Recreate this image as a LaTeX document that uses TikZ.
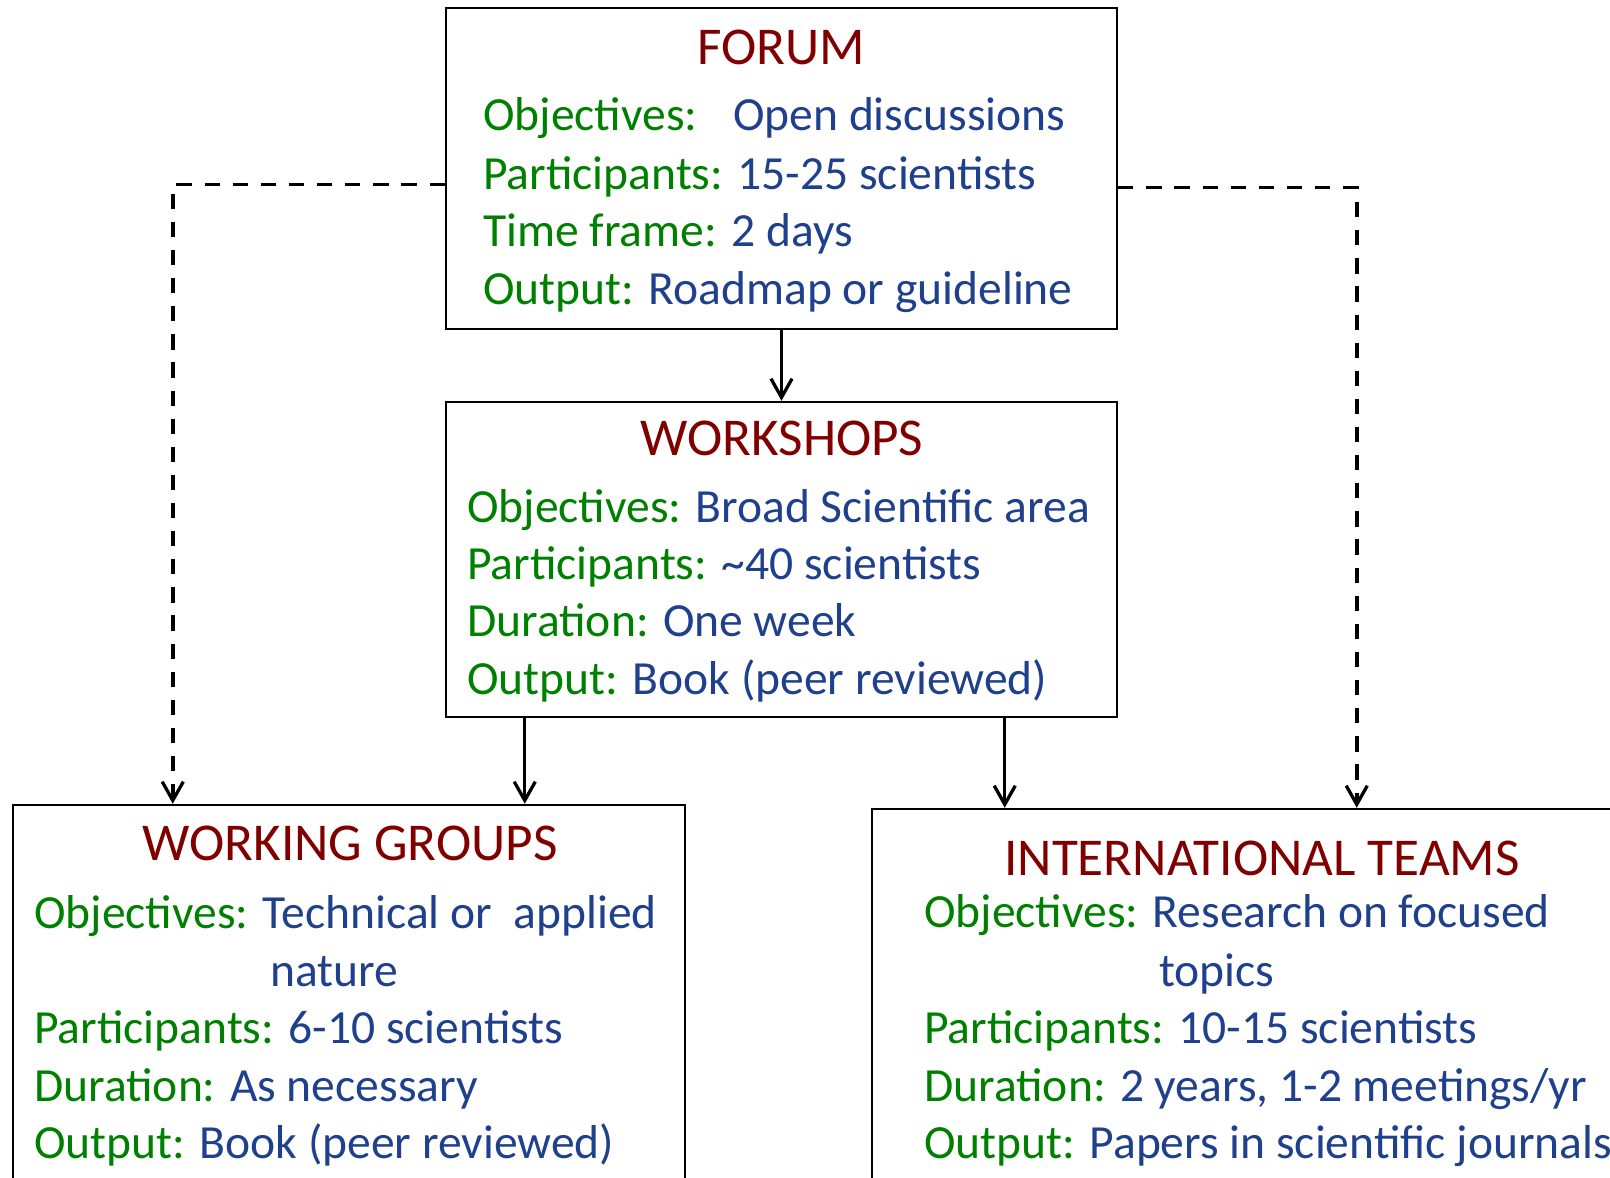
\documentclass[tikz,border=0pt]{standalone}
\usepackage{fontspec}
\setmainfont{Carlito}
\usepackage{xcolor}
\usetikzlibrary{arrows.meta,positioning,calc}

\definecolor{titlered}{RGB}{128,0,0}
\definecolor{fieldgreen}{RGB}{0,128,0}
\definecolor{valueblue}{RGB}{31,64,140}
\newcommand{\fld}[2]{\textcolor{fieldgreen}{#1} \textcolor{valueblue}{#2}}

\begin{document}
\begin{tikzpicture}[
    x=0.03cm, y=-0.03cm,
    panel/.style={draw=black, line width=2.1pt, inner sep=0pt},
    heading/.style={anchor=base, text=titlered, inner sep=0pt,
        font=\fontsize{45.4}{54}\selectfont},
    line/.style={anchor=base west, inner sep=0pt,
        font=\fontsize{40.6}{48.9}\selectfont},
    wrap/.style={line, anchor=base, text=valueblue},
    arrow/.style={-{Straight Barb[length=16pt,width=18pt,line width=2.8pt]}, line width=2.8pt},
    dasharrow/.style={arrow, line width=3pt, dash pattern=on 13pt off 11pt}
]
\useasboundingbox (0,0) rectangle (1610,1178);

% Boxes
\node[panel, minimum width=20.13cm, minimum height=9.63cm] (forum) at (781.5,168.5) {};
\node[panel, minimum width=20.13cm, minimum height=9.45cm] (workshops) at (781.5,559.5) {};
\node[panel, minimum width=20.16cm, minimum height=11.85cm] (wg) at (349,1002.5) {};
\node[panel, minimum width=23.34cm, minimum height=11.73cm] (it) at (1261,1004.5) {};

% ===== Forum =====
\node[heading] (forumT) at (781,65) {FORUM};
\node[line] (forumA) at (483,131) {\fld{Objectives:\hspace{0.45em}}{Open discussions}};
\node[line] (forumB) at (483,189) {\fld{Participants:}{15-25 scientists}};
\node[line] (forumC) at (483,246) {\fld{Time frame:}{2 days}};
\node[line] (forumD) at (483,304) {\fld{Output:}{Roadmap or guideline}};

% ===== Workshops =====
\node[heading] (wsT) at (782,455) {WORKSHOPS};
\node[line] (wsA) at (467,522) {\fld{Objectives:}{Broad Scientific area}};
\node[line] (wsB) at (467,579) {\fld{Participants:}{\textasciitilde 40 scientists}};
\node[line] (wsC) at (467,636) {\fld{Duration:}{One week}};
\node[line] (wsD) at (467,694) {\fld{Output:}{Book (peer reviewed)}};

% ===== Working groups =====
\node[heading] (wgT) at (350,860) {WORKING GROUPS};
\node[line] (wgA) at (34,928) {\fld{Objectives:}{Technical or~ applied}};
\node[wrap] (wgA2) at (334,986) {nature};
\node[line] (wgB) at (34,1043) {\fld{Participants:}{6-10 scientists}};
\node[line] (wgC) at (34,1101) {\fld{Duration:}{As necessary}};
\node[line] (wgD) at (34,1158) {\fld{Output:}{Book (peer reviewed)}};

% ===== International teams =====
\node[heading] (itT) at (1262,875) {INTERNATIONAL TEAMS};
\node[line] (itA) at (924,927) {\fld{Objectives:}{Research on focused}};
\node[wrap] (itA2) at (1217,986) {topics};
\node[line] (itB) at (924,1043) {\fld{Participants:}{10-15 scientists}};
\node[line] (itC) at (924,1101) {\fld{Duration:}{2 years, 1-2 meetings/yr}};
\node[line] (itD) at (924,1158) {\fld{Output:}{Papers in scientific journals}};

% Connectors
\coordinate (wgin) at ($(wg.north west)+(513,0)$);
\coordinate (itin) at ($(it.north west)+(134,0)$);
\draw[arrow] (forum) -- (workshops);
\draw[arrow] (wgin |- workshops.south) -- (wgin);
\draw[arrow] (itin |- workshops.south) -- (itin);
\draw[dasharrow] ($(forum.west)+(0,16)$) -| ($(wg.north west)+(161,0)$);
\draw[dasharrow] ($(forum.east)+(0,19)$) -| ($(it.north west)+(486,0)$);

\end{tikzpicture}
\end{document}
